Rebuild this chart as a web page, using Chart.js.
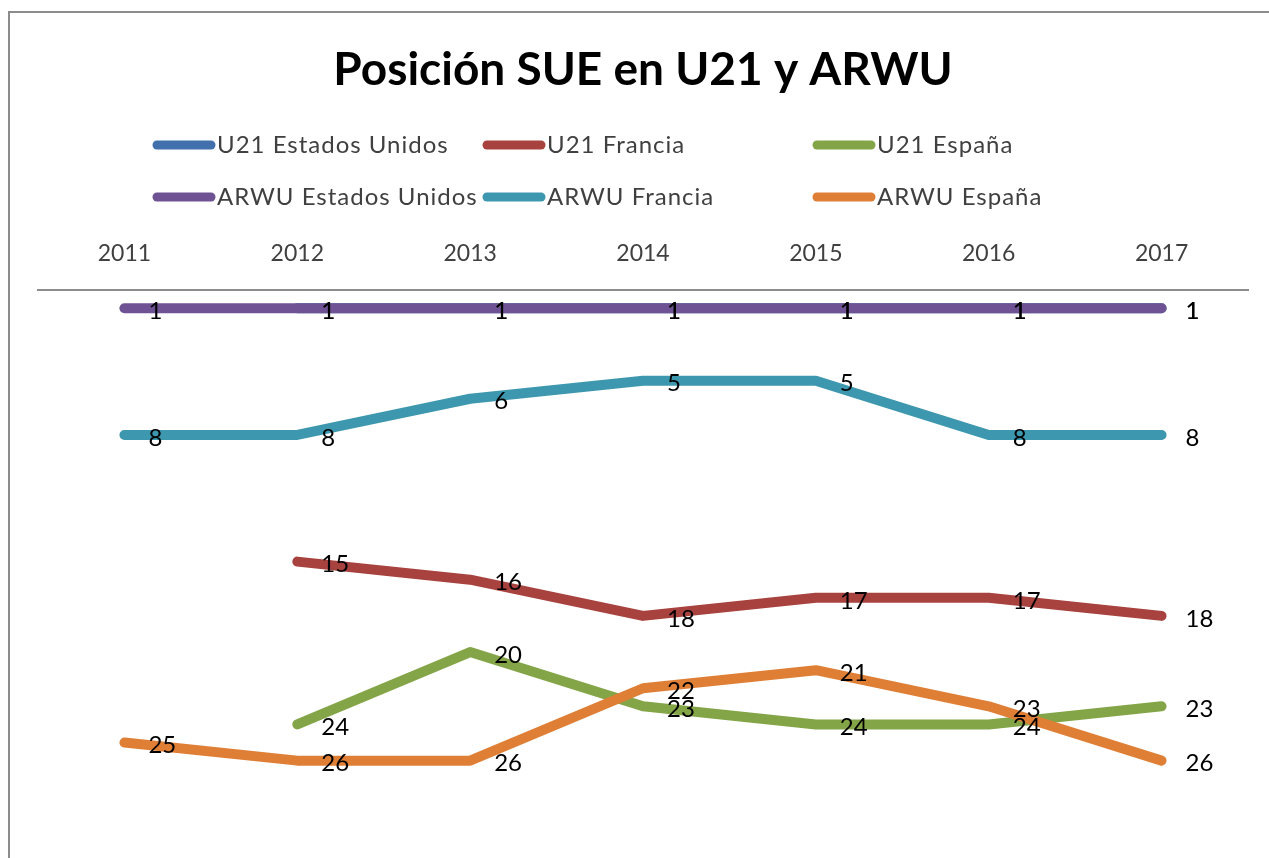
<!DOCTYPE html>
<html>
<head>
<meta charset="utf-8">
<script src="https://cdn.jsdelivr.net/npm/chart.js@4/dist/chart.umd.min.js"></script>
<style>
  html, body { margin: 0; padding: 0; background: #fff; overflow: hidden; }
  #wrap { position: relative; width: 1269px; height: 858px; }
  #frame { position: absolute; left: 8px; top: 11px; width: 2000px; height: 2000px;
           border-left: 2px solid #8c8c8c; border-top: 2px solid #8c8c8c; pointer-events: none; }
</style>
</head>
<body>
<div id="wrap">
  <canvas id="chart" width="1269" height="858"></canvas>
  <div id="frame"></div>
</div>
<script>
const years = ['2011', '2012', '2013', '2014', '2015', '2016', '2017'];

const seriesNames = ['U21 Estados Unidos', 'U21 Francia', 'U21 España',
                     'ARWU Estados Unidos', 'ARWU Francia', 'ARWU España'];

const u21EstadosUnidos = [null, 1, 1, 1, 1, 1, 1];
const u21Francia = [null, 15, 16, 18, 17, 17, 18];
const u21Espana = [null, 24, 20, 23, 24, 24, 23];
const arwuEstadosUnidos = [1, 1, 1, 1, 1, 1, 1];
const arwuFrancia = [8, 8, 6, 5, 5, 8, 8];
const arwuEspana = [25, 26, 26, 22, 21, 23, 26];

const seriesColors = ['#4170AD', '#A8423F', '#84A547', '#6E5293', '#3C97AF', '#DF7F36'];

const allSeries = [u21EstadosUnidos, u21Francia, u21Espana,
                   arwuEstadosUnidos, arwuFrancia, arwuEspana];

const FONT = 'Lato, "Open Sans", sans-serif';

// value labels to the right of each point
const valueLabels = {
  id: 'valueLabels',
  afterDatasetsDraw(chart) {
    const ctx = chart.ctx;
    ctx.save();
    ctx.font = '24px ' + FONT;
    ctx.fillStyle = '#000';
    ctx.textAlign = 'left';
    ctx.textBaseline = 'middle';
    chart.data.datasets.forEach((ds, i) => {
      const meta = chart.getDatasetMeta(i);
      meta.data.forEach((pt, j) => {
        const v = ds.data[j];
        if (v === null || v === undefined) return;
        ctx.fillText(String(v), pt.x + 24, pt.y + 3);
      });
    });
    ctx.restore();
  }
};

// two-row legend laid out on a fixed grid like the original
const gridLegend = {
  id: 'gridLegend',
  afterDraw(chart) {
    const ctx = chart.ctx;
    ctx.save();
    ctx.font = '24px ' + FONT;
    ctx.letterSpacing = '1px';
    ctx.textAlign = 'left';
    ctx.textBaseline = 'middle';
    chart.data.datasets.forEach((ds, i) => {
      const col = i % 3, row = Math.floor(i / 3);
      const x = 153 + col * 330;
      const y = 145 + row * 52;
      ctx.strokeStyle = ds.borderColor;
      ctx.lineWidth = 9;
      ctx.lineCap = 'round';
      ctx.beginPath();
      ctx.moveTo(x + 4, y);
      ctx.lineTo(x + 58, y);
      ctx.stroke();
      ctx.fillStyle = '#404040';
      ctx.fillText(ds.label, x + 64, y);
    });
    ctx.restore();
  }
};

new Chart(document.getElementById('chart'), {
  type: 'line',
  data: {
    labels: years,
    datasets: allSeries.map((vals, i) => ({
      label: seriesNames[i],
      data: vals,
      borderColor: seriesColors[i],
      backgroundColor: seriesColors[i],
      borderWidth: 10,
      borderCapStyle: 'round',
      borderJoinStyle: 'round',
      pointRadius: 0,
      pointHoverRadius: 0,
      tension: 0,
      spanGaps: false,
      order: allSeries.length - i
    }))
  },
  options: {
    responsive: false,
    animation: false,
    layout: { padding: { left: 38, right: 21, top: 0, bottom: 25 } },
    plugins: {
      legend: { display: false },
      tooltip: { enabled: false },
      title: {
        display: true,
        text: 'Posición SUE en U21 y ARWU',
        color: '#000',
        font: { family: FONT, size: 46, weight: 'bold' },
        padding: { top: 43, bottom: 131 }
      }
    },
    scales: {
      x: {
        position: 'top',
        offset: true,
        grid: { display: false, drawTicks: false },
        border: { display: true, color: '#8c8c8c', width: 2 },
        ticks: { color: '#404040', font: { family: FONT, size: 23 }, padding: 23 },
        afterFit(scale) { scale.height = 61; }
      },
      y: {
        display: false,
        reverse: true,
        min: 0,
        max: 30
      }
    }
  },
  plugins: [valueLabels, gridLegend]
});
</script>
</body>
</html>
